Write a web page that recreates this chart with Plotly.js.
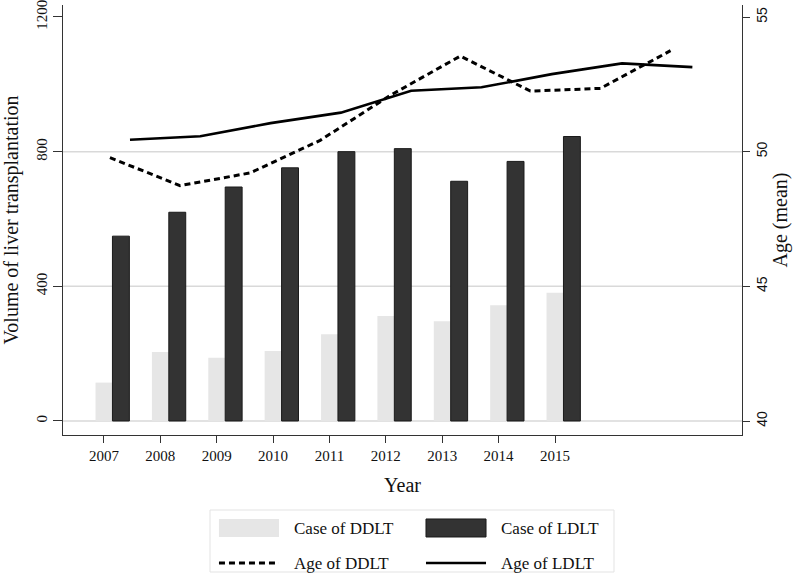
<!DOCTYPE html>
<html>
<head>
<meta charset="utf-8">
<script src="https://cdn.plot.ly/plotly-3.0.1.min.js"></script>
<style>html,body{margin:0;padding:0;background:#fff;}#chart{width:800px;height:574px;}</style>
</head>
<body>
<div id="chart"></div>
<script>
// ---- data ----
const years = ['2007','2008','2009','2010','2011','2012','2013','2014','2015'];
const yearNums = [2007,2008,2009,2010,2011,2012,2013,2014,2015];
const caseDDLT = [114, 205, 188, 208, 258, 312, 296, 344, 381];
const caseLDLT = [549, 620, 695, 752, 800, 809, 712, 771, 845];
const ageDDLT = [49.78, 48.74, 49.21, 50.42, 52.09, 53.55, 52.25, 52.35, 53.75];
const ageLDLT = [50.44, 50.57, 51.06, 51.45, 52.26, 52.39, 52.88, 53.28, 53.14];
const leftTicks = [0, 400, 800, 1200];
const rightTicks = [40, 45, 50, 55];
const gridVals = [0, 400, 800];
const seriesNames = ['Case of DDLT', 'Case of LDLT', 'Age of DDLT', 'Age of LDLT'];

const serif = 'Liberation Serif, Times New Roman, serif';
const sans = 'Liberation Sans, Arial, sans-serif';

const traces = [
  {type:'bar', x: years, y: caseDDLT, name: seriesNames[0], xaxis:'x', yaxis:'y',
   marker:{color:'#e6e6e6', line:{color:'#e6e6e6', width:0}}, offset:-0.15, width:0.3},
  {type:'bar', x: years, y: caseLDLT, name: seriesNames[1], xaxis:'x', yaxis:'y',
   marker:{color:'#333333', line:{color:'#1a1a1a', width:1}}, offset:0.15, width:0.3},
  {type:'scatter', mode:'lines', x: yearNums, y: ageDDLT, name: seriesNames[2], xaxis:'x2', yaxis:'y2',
   line:{color:'#000', width:3, dash:'6px,4px'}},
  {type:'scatter', mode:'lines', x: yearNums, y: ageLDLT, name: seriesNames[3], xaxis:'x3', yaxis:'y2',
   line:{color:'#000', width:2.6}}
];

const shapes = gridVals.map(v => ({type:'line', xref:'paper', yref:'y', x0:0, x1:1, y0:v, y1:v,
  line:{color:'#d9d9d9', width:1.5}, layer:'below'}));

// custom legend
const L = {x0:0.2165, x1:0.8115, y0:-0.3186, y1:-0.1744};
shapes.push({type:'rect', xref:'paper', yref:'paper', x0:L.x0, x1:L.x1, y0:L.y0, y1:L.y1,
  line:{color:'#e3e3e3', width:1}, fillcolor:'rgba(0,0,0,0)'});
shapes.push({type:'rect', xref:'paper', yref:'paper', x0:0.2297, x1:0.3181, y0:-0.2372, y1:-0.1953,
  line:{width:0}, fillcolor:'#e6e6e6'});
shapes.push({type:'rect', xref:'paper', yref:'paper', x0:0.5346, x1:0.6230, y0:-0.2372, y1:-0.1953,
  line:{color:'#1a1a1a', width:1}, fillcolor:'#333333'});
shapes.push({type:'line', xref:'paper', yref:'paper', x0:0.2297, x1:0.3181, y0:-0.2977, y1:-0.2977,
  line:{color:'#000', width:3, dash:'6px,4px'}});
shapes.push({type:'line', xref:'paper', yref:'paper', x0:0.5346, x1:0.6230, y0:-0.2977, y1:-0.2977,
  line:{color:'#000', width:2.6}});

const legPos = [[0.3373,-0.2163],[0.6421,-0.2163],[0.3373,-0.2977],[0.6421,-0.2977]];
const annotations = seriesNames.map((n,i) => ({xref:'paper', yref:'paper', x:legPos[i][0], y:legPos[i][1],
  xanchor:'left', yanchor:'middle', text:n, showarrow:false, font:{family:serif, size:17, color:'#111'}}));

const layout = {
  width:800, height:574,
  margin:{l:63, r:58, t:5, b:139, pad:0},
  paper_bgcolor:'#fff', plot_bgcolor:'#fff',
  showlegend:false,
  barmode:'overlay',
  font:{family:serif, color:'#111'},
  xaxis:{type:'category', range:[-0.727, 11.317], showgrid:false, zeroline:false,
    showline:true, linecolor:'#333', linewidth:1.2,
    ticks:'outside', ticklen:7, tickcolor:'#333', tickwidth:1,
    tickfont:{family:serif, size:15, color:'#111'},
    title:{text:'Year', font:{family:serif, size:20, color:'#111'}, standoff:14}},
  xaxis2:{overlaying:'x', range:[2006.33, 2016.02], visible:false, anchor:'y2'},
  xaxis3:{overlaying:'x', range:[2006.047, 2015.706], visible:false, anchor:'y2'},
  yaxis:{range:[-41.6, 1235.6], tickvals:leftTicks, ticktext:leftTicks.map(String),
    showgrid:false, zeroline:false, showline:true, linecolor:'#333', linewidth:1.2,
    ticks:'outside', ticklen:9, tickcolor:'#333', tickangle:-90, ticklabeloverflow:'allow',
    tickfont:{family:serif, size:15, color:'#111'},
    title:{text:'Volume of liver transplantation', font:{family:serif, size:20, color:'#111'}}},
  yaxis2:{overlaying:'y', side:'right', range:[39.48, 55.446], tickvals:rightTicks, ticktext:rightTicks.map(String),
    showgrid:false, zeroline:false, showline:true, linecolor:'#333', linewidth:1.2,
    ticks:'outside', ticklen:7, tickcolor:'#333', tickangle:-90, ticklabeloverflow:'allow',
    tickfont:{family:sans, size:14, color:'#111'},
    title:{text:'Age (mean)', font:{family:serif, size:20, color:'#111'}, standoff:4}},
  shapes:shapes,
  annotations:annotations,
  hovermode:false
};

Plotly.newPlot('chart', traces, layout, {displayModeBar:false, staticPlot:true});
</script>
</body>
</html>
